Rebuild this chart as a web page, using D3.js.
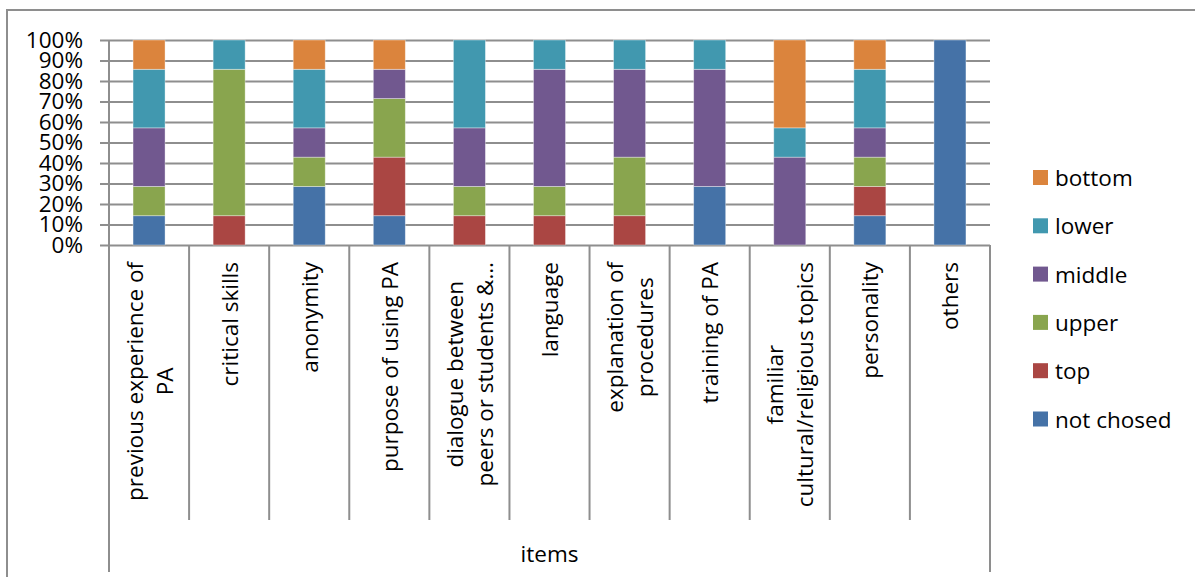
<!DOCTYPE html>
<html>
<head>
<meta charset="utf-8">
<script src="https://cdn.jsdelivr.net/npm/d3@7"></script>
<style>
  html, body { margin: 0; padding: 0; background: #fff; }
  svg { display: block; font-family: "Open Sans", sans-serif; }
</style>
</head>
<body>
<svg id="chart" width="1195" height="577"></svg>
<script>
// 100% stacked columns — counts per item (7 respondents each)

const categories = [
    "previous experience of PA", "critical skills", "anonymity", "purpose of using PA",
    "dialogue between peers or students &", "language", "explanation of procedures",
    "training of PA", "familiar cultural/religious topics", "personality", "others"
];
// wrapped label lines, as shown under the axis
const categoryLines = [
    ["previous experience of", "PA"], ["critical skills"], ["anonymity"], ["purpose of using PA"],
    ["dialogue between", "peers or students &\u2026"], ["language"], ["explanation of", "procedures"],
    ["training of PA"], ["familiar", "cultural/religious topics"], ["personality"], ["others"]
];

const notChosed = [1, 0, 2, 1, 0, 0, 0, 2, 0, 1, 7];
const top_      = [0, 1, 0, 2, 1, 1, 1, 0, 0, 1, 0];
const upper     = [1, 5, 1, 2, 1, 1, 2, 0, 0, 1, 0];
const middle    = [2, 0, 1, 1, 2, 4, 3, 4, 3, 1, 0];
const lower     = [2, 1, 2, 0, 3, 1, 1, 1, 1, 2, 0];
const bottom    = [1, 0, 1, 1, 0, 0, 0, 0, 3, 1, 0];

const seriesKeys = ["not chosed", "top", "upper", "middle", "lower", "bottom"];
const seriesColors = ["#4572A7", "#AA4643", "#89A54E", "#71588F", "#4198AF", "#DB843D"];
const yTicks = [0, 0.1, 0.2, 0.3, 0.4, 0.5, 0.6, 0.7, 0.8, 0.9, 1];
const axisTitle = "items";

const rows = categories.map((c, i) => ({
    cat: c,
    "not chosed": notChosed[i], top: top_[i], upper: upper[i],
    middle: middle[i], lower: lower[i], bottom: bottom[i]
}));

const svg = d3.select("#chart");
const gridColor = "#8e8e8e";
const fontSize = 22.5;

const left = 109, right = 990, plotTop = 40, plotBottom = 245;

const x = d3.scaleBand().domain(categories).range([left, right]).padding(0);
const y = d3.scaleLinear().domain([0, 1]).range([plotBottom, plotTop]);
const color = d3.scaleOrdinal().domain(seriesKeys).range(seriesColors);

// outer chart frame (clipped by the picture on the right and bottom)
svg.append("path")
    .attr("d", "M7,577V10H1195")
    .attr("fill", "none")
    .attr("stroke", gridColor)
    .attr("stroke-width", 2);

// y axis with gridlines
const yAxis = svg.append("g")
    .attr("transform", `translate(${left},0)`)
    .call(d3.axisLeft(y)
        .tickValues(yTicks)
        .tickFormat(d3.format(".0%"))
        .tickSizeInner(-(right - left))
        .tickSizeOuter(0)
        .tickPadding(26));
yAxis.select(".domain").remove();
yAxis.selectAll(".tick line")
    .attr("x1", -9)
    .attr("stroke", gridColor)
    .attr("stroke-width", 2);
yAxis.selectAll(".tick text")
    .attr("font-size", fontSize)
    .attr("font-family", "Open Sans")
    .attr("fill", "#000");

// vertical axis line
svg.append("line")
    .attr("x1", left).attr("x2", left)
    .attr("y1", plotTop).attr("y2", plotBottom)
    .attr("stroke", gridColor).attr("stroke-width", 2);

// stacked bars
const stack = d3.stack().keys(seriesKeys).offset(d3.stackOffsetExpand);
const barW = 32;

svg.append("g").selectAll("g")
    .data(stack(rows))
    .join("g")
    .attr("fill", d => color(d.key))
    .selectAll("rect")
    .data(d => d.filter(s => s[1] - s[0] > 0))
    .join("rect")
    .attr("x", d => x(d.data.cat) + (x.bandwidth() - barW) / 2)
    .attr("width", barW)
    .attr("y", d => y(d[1]))
    .attr("height", d => y(d[0]) - y(d[1]))
    .attr("stroke", "#fff")
    .attr("stroke-opacity", 0.45)
    .attr("stroke-width", 0.8);

// category separators below the axis
const edges = categories.map(c => x(c)).concat([right]);
svg.append("g").selectAll("line")
    .data(edges)
    .join("line")
    .attr("x1", d => d).attr("x2", d => d)
    .attr("y1", plotBottom)
    .attr("y2", (d, i) => (i === 0 || i === edges.length - 1) ? 572 : 520)
    .attr("stroke", gridColor).attr("stroke-width", 2);

// rotated category labels
const lineH = 30;
const labels = svg.append("g").selectAll("g")
    .data(categoryLines)
    .join("g")
    .attr("transform", (d, i) => `translate(${x(categories[i]) + x.bandwidth() / 2},262) rotate(-90)`);

labels.each(function (lines) {
    const g = d3.select(this);
    const texts = g.selectAll("text")
        .data(lines)
        .join("text")
        .attr("font-size", fontSize)
        .attr("text-anchor", "middle")
        .attr("dominant-baseline", "central")
        .attr("y", (d, i) => (i - (lines.length - 1) / 2) * lineH)
        .text(d => d);
    let maxW = 0;
    texts.each(function () { maxW = Math.max(maxW, this.getComputedTextLength()); });
    texts.attr("x", -maxW / 2);
});

// axis title
svg.append("text")
    .attr("x", (left + right) / 2)
    .attr("y", 562)
    .attr("text-anchor", "middle")
    .attr("font-size", fontSize)
    .text(axisTitle);

// legend (top of stack first)
const legendKeys = seriesKeys.slice().reverse();
const legend = svg.append("g").selectAll("g")
    .data(legendKeys)
    .join("g")
    .attr("transform", (d, i) => `translate(1033,${177.5 + i * 48.3})`);

legend.append("rect")
    .attr("y", -7.5)
    .attr("width", 15).attr("height", 15)
    .attr("fill", d => color(d));

legend.append("text")
    .attr("x", 22)
    .attr("dominant-baseline", "central")
    .attr("font-size", fontSize)
    .text(d => d);
</script>
</body>
</html>
